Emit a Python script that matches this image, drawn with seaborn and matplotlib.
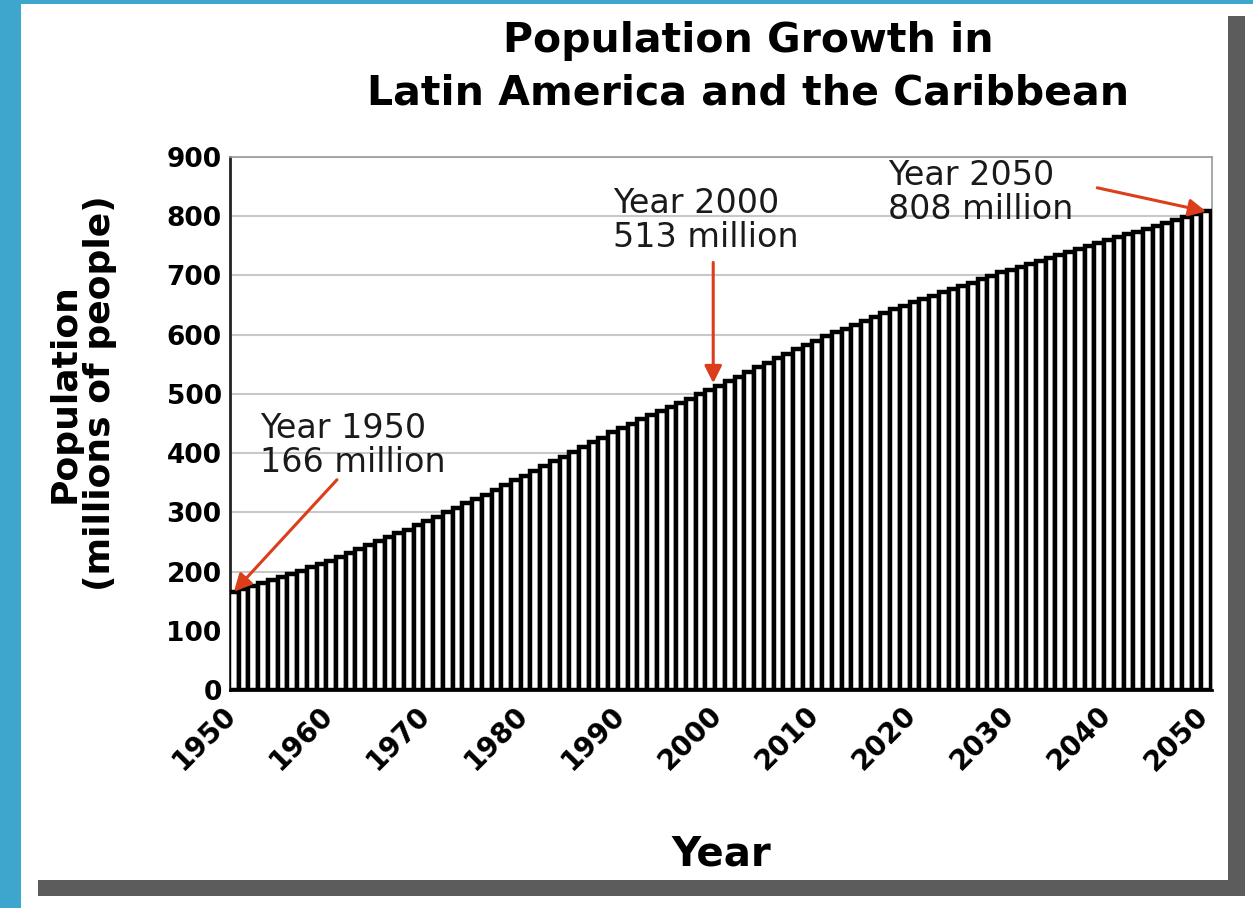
import numpy as np
import pandas as pd
import matplotlib
matplotlib.use("Agg")
import matplotlib.pyplot as plt
import matplotlib.transforms as mtransforms
from matplotlib.patches import Rectangle
import seaborn as sns

# ---- data ----
years = list(range(1950, 2051))
population = [
    166, 171, 175, 180, 185, 190, 196, 201, 207, 212,
    218, 225, 231, 238, 244, 251, 258, 265, 271, 278,
    285, 292, 300, 307, 315, 323, 330, 338, 346, 354,
    362, 370, 378, 386, 394, 402, 410, 418, 426, 435,
    443, 450, 457, 464, 471, 478, 485, 492, 499, 506,
    513, 521, 529, 537, 545, 552, 560, 567, 575, 582,
    590, 597, 604, 610, 617, 623, 630, 636, 643, 649,
    655, 661, 666, 672, 677, 683, 688, 694, 699, 705,
    710, 715, 720, 725, 730, 735, 740, 745, 750, 755,
    760, 765, 770, 774, 779, 784, 788, 793, 798, 803,
    808,
]
tick_years = list(range(1950, 2051, 10))
y_ticks = list(range(0, 901, 100))
callout_years = [1950, 2000, 2050]
callout_values = [166, 513, 808]
callout_labels = ["Year 1950\n166 million", "Year 2000\n513 million", "Year 2050\n808 million"]

df = pd.DataFrame({"Year": years, "Population": population})

sns.set_style("white")
plt.rcParams["font.family"] = ["DejaVu Sans"]
plt.rcParams["text.color"] = "black"
plt.rcParams["axes.labelcolor"] = "black"
plt.rcParams["xtick.color"] = "black"
plt.rcParams["ytick.color"] = "black"

W, H = 1253, 908
fig = plt.figure(figsize=(W / 100, H / 100), dpi=100, facecolor="white")

def px_rect(x0, y0, x1, y1, color, z):
    fig.patches.append(Rectangle((x0 / W, 1 - y1 / H), (x1 - x0) / W, (y1 - y0) / H,
                                 transform=fig.transFigure, facecolor=color,
                                 edgecolor="none", zorder=z))

# blue frame, shadow, white panel
px_rect(0, 0, 21, H, "#3ea6cc", 0)
px_rect(0, 0, W, 4, "#3ea6cc", 0)
px_rect(38, 16, 1245, 896, "#5c5c5c", 1)
px_rect(21, 4, 1228, 880, "white", 2)

ax = fig.add_axes([230 / W, 1 - 690 / H, (1212 - 230) / W, (690 - 157) / H])
ax.set_facecolor("white")
ax.set_zorder(5)

sns.barplot(data=df, x="Year", y="Population", native_scale=True, width=1.0,
            color="white", saturation=1, edgecolor="black", linewidth=3.2, ax=ax, zorder=3)

ax.set_xlim(1949.6, 2050.6)
ax.set_ylim(0, 900)
ax.set_yticks(y_ticks)
ax.set_xticks(tick_years)
ax.set_xticklabels([str(t) for t in tick_years], rotation=45, ha="right",
                   rotation_mode="anchor", fontsize=20, fontweight="bold")
ax.set_yticklabels([str(t) for t in y_ticks], fontsize=19, fontweight="bold")
ax.tick_params(axis="y", direction="inout", length=10, width=2, pad=1)
ax.tick_params(axis="x", length=0, pad=8)
shift = mtransforms.ScaledTranslation(-12 / 100, 0, fig.dpi_scale_trans)
for lbl in ax.get_xticklabels():
    lbl.set_transform(lbl.get_transform() + shift)
ax.yaxis.grid(True, color="#c8c8c8", linewidth=1.5, zorder=0)
ax.set_axisbelow(True)

for s in ["top", "right"]:
    ax.spines[s].set_color("#9a9a9a")
    ax.spines[s].set_linewidth(1.2)
ax.spines["left"].set_color("#222222")
ax.spines["left"].set_linewidth(2)
ax.spines["bottom"].set_color("black")
ax.spines["bottom"].set_linewidth(2)

ax.set_xlabel("Year", fontsize=29, fontweight="bold", labelpad=42)
ax.set_ylabel("Population\n(millions of people)", fontsize=26, fontweight="bold",
              linespacing=1.05)
ax.yaxis.set_label_coords((117 - 230) / 982, (690 - 393) / 533)

fig.text((372 + 1125) / 2 / W, 1 - 21 / H,
         "Population Growth in\nLatin America and the Caribbean",
         ha="center", va="top", fontsize=29.5, fontweight="bold", linespacing=1.4)

# callouts
text_pos = [(1952.7, 470), (1989.0, 850), (2017.3, 897)]
tail_pos = [(1960.6, 355), (1999.3, 722), (2038.8, 848)]
tip_pos = [(callout_years[0], callout_values[0]), (1999.3, 518), (callout_years[2], callout_values[2])]
arrow_col = "#dc3d1a"
for lab, tp, tl, tip in zip(callout_labels, text_pos, tail_pos, tip_pos):
    ax.text(tp[0], tp[1], lab, ha="left", va="top", fontsize=24, color="#1a1a1a",
            linespacing=1.05, zorder=6, clip_on=False)
    ax.annotate("", xy=tip, xytext=tl, zorder=7, annotation_clip=False,
                arrowprops=dict(arrowstyle="-|>", color=arrow_col, lw=2.2,
                                mutation_scale=26, shrinkA=0, shrinkB=0))

fig.savefig("out.png", dpi=100, facecolor=fig.get_facecolor())
